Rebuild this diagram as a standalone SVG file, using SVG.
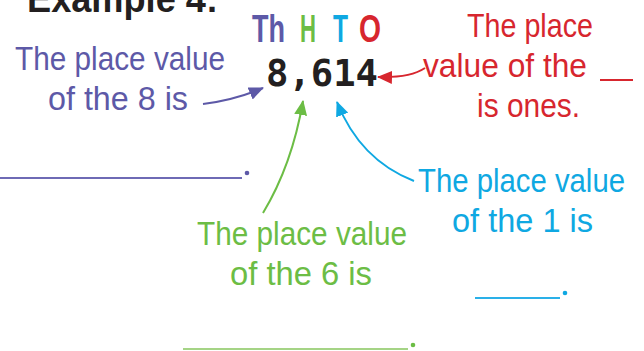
<svg xmlns="http://www.w3.org/2000/svg" width="644" height="351" viewBox="0 0 644 351">
<style>
.lbl{font-family:"Liberation Sans",Arial,sans-serif;font-size:33px}
.hd{font-family:"Liberation Sans",Arial,sans-serif;font-size:38px;font-weight:bold}
.pu{fill:#5d59a7}.gr{fill:#6cbd45}.bl{fill:#0fa8e2}.rd{fill:#d7262e}
.conn{fill:none;stroke-width:2}
</style>
<defs>
<marker id="mp" markerUnits="userSpaceOnUse" markerWidth="15" markerHeight="13" viewBox="0 0 15 13" refX="14" refY="6.5" orient="auto"><path d="M0,0 L15,6.5 L0,13 Z" fill="#5d59a7"/></marker>
<marker id="mg" markerUnits="userSpaceOnUse" markerWidth="15" markerHeight="13" viewBox="0 0 15 13" refX="14" refY="6.5" orient="auto"><path d="M0,0 L15,6.5 L0,13 Z" fill="#6cbd45"/></marker>
<marker id="mb" markerUnits="userSpaceOnUse" markerWidth="15" markerHeight="13" viewBox="0 0 15 13" refX="14" refY="6.5" orient="auto"><path d="M0,0 L15,6.5 L0,13 Z" fill="#0fa8e2"/></marker>
<marker id="mr" markerUnits="userSpaceOnUse" markerWidth="15" markerHeight="13" viewBox="0 0 15 13" refX="14" refY="6.5" orient="auto"><path d="M0,0 L15,6.5 L0,13 Z" fill="#d7262e"/></marker>
</defs>
<rect width="644" height="351" fill="#ffffff"/>
<g id="title"><text x="27" y="12" class="hd" fill="#231f20" font-size="36" textLength="191" lengthAdjust="spacingAndGlyphs">Example 4:</text></g>
<g id="header">
<text x="252" y="42" class="hd pu" textLength="33" lengthAdjust="spacingAndGlyphs">Th</text>
<text x="300" y="42" class="hd gr" textLength="16" lengthAdjust="spacingAndGlyphs">H</text>
<text x="333" y="42" class="hd bl" textLength="15" lengthAdjust="spacingAndGlyphs">T</text>
<text x="359" y="42" class="hd rd" textLength="22" lengthAdjust="spacingAndGlyphs">O</text>
</g>
<g id="number"><text x="266" y="86" font-family="DejaVu Sans Mono,monospace" font-weight="bold" font-size="37" fill="#231f20" textLength="112" lengthAdjust="spacingAndGlyphs">8,614</text></g>
<g id="purple-label" class="pu">
<text x="15" y="70" class="lbl" textLength="210" lengthAdjust="spacingAndGlyphs">The place value</text>
<text x="48" y="110" class="lbl" textLength="140" lengthAdjust="spacingAndGlyphs">of the 8 is</text>
<line x1="0" y1="178" x2="242" y2="178" stroke="#6e6ab5" stroke-width="2"/>
<circle cx="247" cy="173" r="2.3"/>
</g>
<g id="red-label" class="rd">
<text x="467" y="37" class="lbl" textLength="126" lengthAdjust="spacingAndGlyphs">The place</text>
<text x="423" y="77" class="lbl" textLength="164" lengthAdjust="spacingAndGlyphs">value of the</text>
<line x1="600" y1="80" x2="633" y2="80" stroke="#d7262e" stroke-width="2"/>
<text x="477" y="117" class="lbl" textLength="103" lengthAdjust="spacingAndGlyphs">is ones.</text>
</g>
<g id="blue-label" class="bl">
<text x="418" y="192" class="lbl" font-size="31" textLength="207" lengthAdjust="spacingAndGlyphs">The place value</text>
<text x="452" y="232" class="lbl" textLength="141" lengthAdjust="spacingAndGlyphs">of the 1 is</text>
<line x1="475" y1="298" x2="560" y2="298" stroke="#2ab0e8" stroke-width="2"/>
<circle cx="565" cy="293" r="2.3"/>
</g>
<g id="green-label" class="gr">
<text x="197" y="245" class="lbl" textLength="210" lengthAdjust="spacingAndGlyphs">The place value</text>
<text x="230" y="285" class="lbl" textLength="142" lengthAdjust="spacingAndGlyphs">of the 6 is</text>
<line x1="183" y1="349" x2="408" y2="349" stroke="#a5d486" stroke-width="2"/>
<circle cx="413" cy="345" r="2.3"/>
</g>
<g id="connectors">
<path class="conn" d="M203 104 Q235 100 263 88" stroke="#5d59a7" marker-end="url(#mp)"/>
<path class="conn" d="M263 213 Q292 165 303 101" stroke="#6cbd45" marker-end="url(#mg)"/>
<path class="conn" d="M414 181 Q360 160 337 102" stroke="#0fa8e2" marker-end="url(#mb)"/>
<path class="conn" d="M425 68 Q410 78 378 77" stroke="#d7262e" marker-end="url(#mr)"/>
</g>
</svg>
